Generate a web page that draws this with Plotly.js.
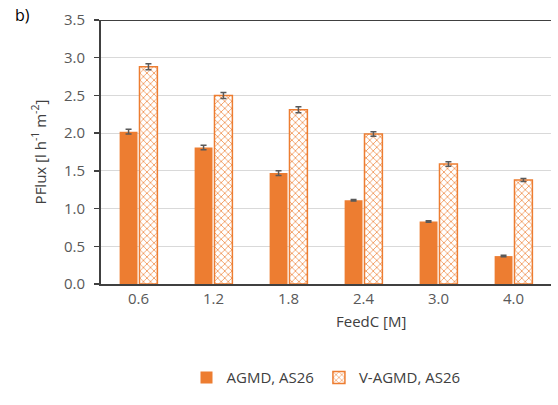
<!DOCTYPE html>
<html>
<head>
<meta charset="utf-8">
<script src="https://cdn.plot.ly/plotly-3.0.1.min.js"></script>
<style>html,body{margin:0;padding:0;background:#fff;}#chart{width:558px;height:405px;}</style>
</head>
<body>
<div id="chart"></div>
<script>
const categories = ["0.6", "1.2", "1.8", "2.4", "3.0", "4.0"];
const agmdValues = [2.02, 1.81, 1.47, 1.11, 0.83, 0.37];
const agmdErrors = [0.03, 0.03, 0.03, 0.01, 0.01, 0.01];
const vagmdValues = [2.88, 2.50, 2.31, 1.99, 1.59, 1.38];
const vagmdErrors = [0.04, 0.04, 0.04, 0.03, 0.03, 0.02];
const seriesNames = ["AGMD, AS26", "V-AGMD, AS26"];
const yTicks = [0, 0.5, 1.0, 1.5, 2.0, 2.5, 3.0, 3.5];

const orange = "#ED7D31";
const errStyle = {type: "data", visible: true, color: "#595959", thickness: 1.5, width: 3};

const traces = [
  {
    type: "bar", name: seriesNames[0], x: categories, y: agmdValues,
    marker: {color: orange, line: {color: orange, width: 0}},
    error_y: Object.assign({array: agmdErrors}, errStyle)
  },
  {
    type: "bar", name: seriesNames[1], x: categories, y: vagmdValues,
    marker: {
      color: "#ffffff",
      line: {color: orange, width: 1.5},
      pattern: {shape: "x", fgcolor: orange, bgcolor: "#ffffff", size: 5, solidity: 0.25}
    },
    error_y: Object.assign({array: vagmdErrors}, errStyle)
  }
];

const font = {family: "Open Sans, sans-serif", color: "#595959", size: 15};

const layout = {
  width: 558, height: 405,
  margin: {l: 101, r: 7, t: 20, b: 121},
  paper_bgcolor: "#fff", plot_bgcolor: "#fff",
  font: font,
  barmode: "group", bargap: 0.47, bargroupgap: 0.1,
  showlegend: true,
  legend: {orientation: "h", x: 0.5, xanchor: "center", y: -0.355, yanchor: "middle",
           font: {family: "Open Sans, sans-serif", size: 15, color: "#404040"}, traceorder: "normal",
           itemwidth: 30},
  xaxis: {
    type: "category", showline: true, linecolor: "#404040", linewidth: 2,
    ticks: "", showgrid: false, tickfont: font, zeroline: false
  },
  yaxis: {
    range: [0, 3.5], tickvals: yTicks, tickformat: ".1f",
    showline: true, linecolor: "#404040", linewidth: 2,
    ticks: "outside", ticklen: 5, tickcolor: "#404040", tickwidth: 1.5,
    ticklabelstandoff: 6,
    showgrid: true, gridcolor: "#d9d9d9", gridwidth: 1, zeroline: false,
    tickfont: font,
    title: {text: "PFlux [l h<sup>-1</sup> m<sup>-2</sup>]", standoff: 14,
            font: {family: "Open Sans, sans-serif", size: 15, color: "#404040"}}
  },
  shapes: [
    {type: "line", xref: "paper", yref: "y", x0: 0, x1: 1, y0: 3.5, y1: 3.5,
     line: {color: "#404040", width: 2}}
  ],
  annotations: [
    {text: "FeedC [M]", xref: "paper", yref: "paper", x: 0.6, y: -0.14, xanchor: "center", yanchor: "middle",
     showarrow: false, font: {family: "Open Sans, sans-serif", size: 15, color: "#404040"}},
    {text: "b)", xref: "paper", yref: "paper", x: -0.195, y: 1.02, xanchor: "left", yanchor: "middle",
     showarrow: false, font: {family: "Open Sans, sans-serif", size: 16, color: "#000"}}
  ]
};

Plotly.newPlot("chart", traces, layout, {displayModeBar: false, staticPlot: true});
</script>
</body>
</html>
